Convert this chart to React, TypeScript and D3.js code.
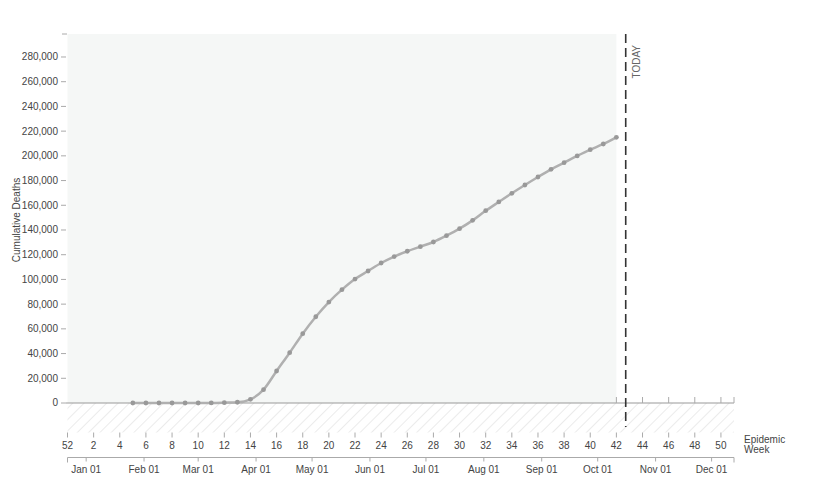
import React from "react";
import * as d3 from "d3";

// ---- Data ----
const weeks = [5, 6, 7, 8, 9, 10, 11, 12, 13, 14, 15, 16, 17, 18, 19, 20, 21, 22, 23, 24, 25, 26, 27, 28, 29, 30, 31, 32, 33, 34, 35, 36, 37, 38, 39, 40, 41, 42];
const deaths = [0, 0, 0, 0, 2, 20, 80, 300, 600, 3000, 10800, 25900, 40700, 56100, 69800, 81700, 91700, 100300, 106800, 113300, 118500, 122800, 126500, 130300, 135400, 141100, 147800, 155600, 162700, 169700, 176400, 182900, 189100, 194500, 199900, 205000, 209600, 215000];
const yTicks = [0, 20000, 40000, 60000, 80000, 100000, 120000, 140000, 160000, 180000, 200000, 220000, 240000, 260000, 280000];
const weekTickLabels = [52, 2, 4, 6, 8, 10, 12, 14, 16, 18, 20, 22, 24, 26, 28, 30, 32, 34, 36, 38, 40, 42, 44, 46, 48, 50];
const futureWeekTicks = [42, 44, 46, 48, 50];
const monthTicks = ["2020-01-01", "2020-02-01", "2020-03-01", "2020-04-01", "2020-05-01", "2020-06-01", "2020-07-01", "2020-08-01", "2020-09-01", "2020-10-01", "2020-11-01", "2020-12-01"];
const todayDate = "2020-10-16";
const domainStart = "2019-12-22";
const domainEnd = "2020-12-13";
const yMax = 298600;

const parse = (s: string) => {
  const [y, m, d] = s.split("-").map(Number);
  return new Date(y, m - 1, d);
};
// MMWR week start (Sunday). Week 52 of 2019 begins Dec 22, 2019.
const weekStart = (w: number) => {
  const base = new Date(2019, 11, 29); // week 1 of 2020
  if (w === 52) return new Date(2019, 11, 22);
  return d3.timeDay.offset(base, (w - 1) * 7);
};

const L = 67.5, R = 734, TOP = 34, ZERO = 403, HATCH_B = 432.5, DATE_Y = 457.5;

export default function App() {
  const x = d3.scaleTime().domain([parse(domainStart), parse(domainEnd)]).range([L, R]);
  const y = d3.scaleLinear().domain([0, yMax]).range([ZERO, TOP]);
  const pts = weeks.map((w, i) => ({ x: x(weekStart(w)), y: y(deaths[i]) }));
  const line = d3.line<{ x: number; y: number }>().x(d => d.x).y(d => d.y).curve(d3.curveMonotoneX);
  const shadeEnd = x(weekStart(42));
  const tx = x(parse(todayDate));
  const fmt = d3.format(",");
  const dfmt = d3.timeFormat("%b %d");
  const font = "'Liberation Sans', Arial, Helvetica, sans-serif";
  const textCol = "#444";
  const axisCol = "#aaa";

  return (
    <svg width={819} height={492} style={{ position: "absolute", left: 0, top: 0, background: "#fff" }} fontFamily={font}>
      <defs>
        <pattern id="hatch" width="8" height="8" patternUnits="userSpaceOnUse" patternTransform="rotate(45)">
          <line x1="0" y1="0" x2="0" y2="8" stroke="#d8d8d8" strokeWidth="1" />
        </pattern>
      </defs>
      {/* shaded observed area */}
      <rect x={L} y={TOP} width={shadeEnd - L} height={ZERO - TOP} fill="#f5f7f6" />
      {/* hatch below zero */}
      <rect x={L} y={ZERO} width={R - L} height={HATCH_B - ZERO} fill="url(#hatch)" />
      {/* y axis ticks */}
      <line x1={62} x2={67} y1={TOP} y2={TOP} stroke={axisCol} />
      {yTicks.map(t => (
        <g key={t}>
          <line x1={61} x2={66} y1={y(t)} y2={y(t)} stroke={axisCol} />
          <text x={58} y={y(t)} dy="0.34em" textAnchor="end" fontSize={10} fill={textCol}>{fmt(t)}</text>
        </g>
      ))}
      <text transform={`translate(20,${220}) rotate(-90)`} textAnchor="middle" fontSize={10} fill={textCol}>Cumulative Deaths</text>
      {/* zero line */}
      <line x1={66} x2={R} y1={ZERO} y2={ZERO} stroke="#999" />
      {/* future week ticks on zero line */}
      {futureWeekTicks.map(w => (
        <line key={w} x1={x(weekStart(w))} x2={x(weekStart(w))} y1={ZERO - 6} y2={ZERO} stroke={axisCol} />
      ))}
      <line x1={R} x2={R} y1={ZERO - 6} y2={ZERO} stroke={axisCol} />
      {/* week axis */}
      {weekTickLabels.map(w => {
        const xx = x(weekStart(w));
        return (
          <g key={w}>
            <line x1={xx} x2={xx} y1={HATCH_B} y2={HATCH_B + 5} stroke={axisCol} />
            <text x={xx} y={448.5} textAnchor="middle" fontSize={10} fill={textCol}>{w}</text>
          </g>
        );
      })}
      <text x={744} y={442.5} fontSize={10} fill={textCol}>Epidemic</text>
      <text x={744} y={452.5} fontSize={10} fill={textCol}>Week</text>
      {/* date axis */}
      <line x1={L} x2={R} y1={DATE_Y} y2={DATE_Y} stroke={axisCol} />
      <line x1={L} x2={L} y1={DATE_Y} y2={DATE_Y + 5} stroke={axisCol} />
      <line x1={R} x2={R} y1={DATE_Y} y2={DATE_Y + 5} stroke={axisCol} />
      {monthTicks.map(m => {
        const xx = x(parse(m));
        return (
          <g key={m}>
            <line x1={xx} x2={xx} y1={DATE_Y} y2={DATE_Y + 4} stroke={axisCol} />
            <text x={xx} y={472.5} textAnchor="middle" fontSize={10} fill={textCol}>{dfmt(parse(m))}</text>
          </g>
        );
      })}
      {/* data line */}
      <path d={line(pts) || ""} fill="none" stroke="#b0b0b0" strokeWidth={2.5} />
      {pts.map((p, i) => (
        <circle key={i} cx={p.x} cy={p.y} r={2.4} fill="#999" />
      ))}
      {/* today */}
      <line x1={tx} x2={tx} y1={TOP} y2={427} stroke="#333" strokeWidth={1.6} strokeDasharray="9,5" />
      <text transform={`translate(${tx + 14},${45}) rotate(-90)`} textAnchor="end" fontSize={10} fill="#666">TODAY</text>
    </svg>
  );
}
